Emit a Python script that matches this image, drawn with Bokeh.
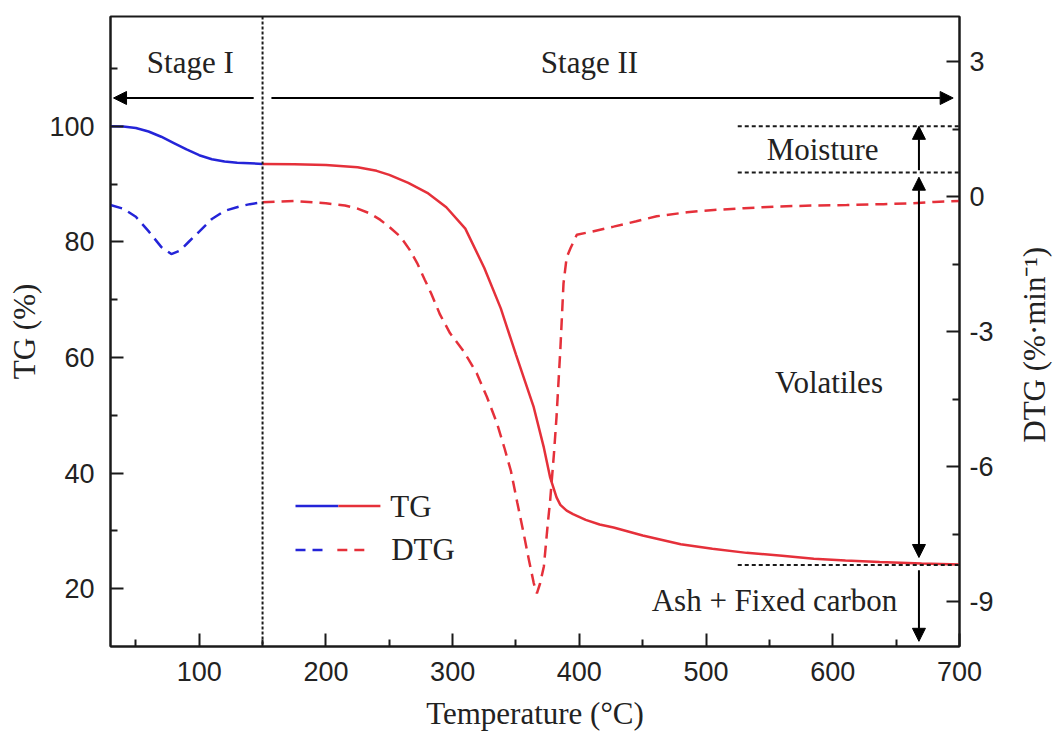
import math

from bokeh.core.properties import value
from bokeh.embed import file_html
from bokeh.layouts import row
from bokeh.models import Arrow, FixedTicker, Label, LinearAxis, NormalHead, Range1d, Span
from bokeh.plotting import figure
from bokeh.resources import INLINE

# ---- thermogravimetric data -------------------------------------------------
# Stage I (drying): TG in %, DTG in %/min
tg1_temp = [30, 40, 50, 60, 70, 80, 90, 100, 110, 120, 130, 140, 150]
tg1 = [100.0, 99.95, 99.7, 99.1, 98.2, 97.1, 96.0, 95.0, 94.3, 93.9, 93.7, 93.6, 93.5]

dtg1_temp = [30, 40, 50, 60, 70, 78, 85, 92, 100, 110, 120, 132, 140, 150]
dtg1 = [-0.19, -0.27, -0.45, -0.77, -1.12, -1.28, -1.2, -1.0, -0.78, -0.5, -0.32, -0.22, -0.17, -0.13]

# Stage II (devolatilisation)
tg2_temp = [150, 175, 200, 225, 240, 250, 265, 280, 295, 310, 325, 338, 350, 364, 372,
            377, 382, 385, 390, 395, 405, 416, 427, 450, 480, 505, 532, 560, 585, 610,
            637, 670, 700]
tg2 = [93.5, 93.45, 93.3, 92.9, 92.3, 91.6, 90.2, 88.5, 86.0, 82.3, 75.5, 68.5, 60.5, 51.4, 44.4,
       39.2, 35.8, 34.5, 33.5, 32.9, 31.9, 31.1, 30.6, 29.2, 27.7, 26.9, 26.2, 25.7, 25.2, 24.9,
       24.6, 24.35, 24.2]

dtg2_temp = [150, 175, 200, 215, 225, 235, 243, 251, 259, 266, 272, 278, 283, 290, 298, 309,
             319, 327, 335, 341, 346, 351, 356, 360, 364, 366.5, 369, 372, 375, 377, 380, 382,
             385, 387.5, 390, 393, 398, 410, 427, 445, 461, 485, 506, 530, 558, 585, 611, 640,
             663, 680, 700]
dtg2 = [-0.13, -0.1, -0.15, -0.2, -0.27, -0.38, -0.52, -0.7, -0.9, -1.18, -1.48, -1.85, -2.15,
        -2.62, -3.04, -3.45, -3.93, -4.45, -5.04, -5.6, -6.1, -6.8, -7.48, -8.05, -8.59, -8.82,
        -8.6, -8.22, -7.3, -6.74, -5.7, -4.89, -3.4, -1.93, -1.35, -1.15, -0.85, -0.78, -0.67,
        -0.55, -0.44, -0.35, -0.3, -0.26, -0.22, -0.2, -0.19, -0.17, -0.15, -0.12, -0.1]

# stage boundary and mass-loss levels (TG %)
stage_boundary = 150
moisture_top, moisture_bottom, residue_level = 100, 92, 24.1

# ticks
x_ticks = [100, 200, 300, 400, 500, 600, 700]
x_minor = [50, 150, 250, 350, 450, 550, 650]
tg_ticks = [20, 40, 60, 80, 100]
tg_minor = [30, 50, 70, 90, 110]
dtg_ticks = [3, 0, -3, -6, -9]
dtg_minor = [1.5, -1.5, -4.5, -7.5]
dtg_labels = {3: "3", 0: "0", -3: "-3", -6: "-6", -9: "-9"}

# ---- styling ---------------------------------------------------------------
SERIF = "Liberation Serif"
SANS = "Liberation Sans"
BLUE = "#2424d8"
RED = "#e5303a"
INK = "#1a1a1a"
TXT = "31px"

p = figure(width=996, height=733, output_backend="svg", toolbar_location=None,
           x_range=Range1d(30, 700), y_range=Range1d(10, 119),
           min_border_left=110, min_border_right=37, min_border_top=16, min_border_bottom=87)
p.extra_y_ranges = {"dtg": Range1d(-10, 4)}
p.grid.visible = False
p.outline_line_color = INK
p.outline_line_width = 2
p.background_fill_color = "white"
p.border_fill_color = "white"


def style_axis(ax, standoff):
    ax.axis_line_color = INK
    ax.axis_line_width = 2
    ax.major_tick_line_color = INK
    ax.major_tick_line_width = 2
    ax.minor_tick_line_color = INK
    ax.minor_tick_line_width = 2
    ax.major_tick_in = 13
    ax.major_tick_out = 0
    ax.minor_tick_in = 7
    ax.minor_tick_out = 0
    ax.major_label_text_font = SANS
    ax.major_label_text_font_size = "27px"
    ax.major_label_text_color = "#222222"
    ax.major_label_standoff = standoff
    ax.axis_label_text_font = SERIF
    ax.axis_label_text_font_size = TXT
    ax.axis_label_text_font_style = "normal"
    ax.axis_label_text_color = "#222222"


xax = p.xaxis[0]
xax.ticker = FixedTicker(ticks=x_ticks, minor_ticks=x_minor)
xax.axis_label = "Temperature (°C)"
style_axis(xax, 15)
xax.axis_label_standoff = 12

yax = p.yaxis[0]
yax.ticker = FixedTicker(ticks=tg_ticks, minor_ticks=tg_minor)
yax.axis_label = "TG (%)"
style_axis(yax, 16)
yax.axis_label_standoff = 4

rax = LinearAxis(y_range_name="dtg", ticker=FixedTicker(ticks=dtg_ticks, minor_ticks=dtg_minor))
rax.major_label_overrides = dtg_labels
style_axis(rax, 10)
p.add_layout(rax, "right")

# ---- curves ----------------------------------------------------------------
p.line(tg1_temp, tg1, line_color=BLUE, line_width=2.5)
p.line(tg2_temp, tg2, line_color=RED, line_width=2.5)
p.line(dtg1_temp, dtg1, y_range_name="dtg", line_color=BLUE, line_width=2.5, line_dash="12 7")
p.line(dtg2_temp, dtg2, y_range_name="dtg", line_color=RED, line_width=2.5, line_dash="12 7")

# ---- stage markers ---------------------------------------------------------
p.add_layout(Span(location=stage_boundary, dimension="height", line_color=INK,
                  line_width=2, line_dash="3 2"))


def head():
    return NormalHead(size=13, fill_color="black", line_color="black")


p.add_layout(Arrow(start=None, end=head(), x_start=143, y_start=104.9, x_end=32.4, y_end=104.9,
                   line_color="black", line_width=2))
p.add_layout(Arrow(start=None, end=head(), x_start=157, y_start=104.9, x_end=695, y_end=104.9,
                   line_color="black", line_width=2))

# mass-loss bands
p.segment(x0=[525, 525, 525], y0=[moisture_top, moisture_bottom, residue_level],
          x1=[700, 700, 700], y1=[moisture_top, moisture_bottom, residue_level],
          line_color=INK, line_width=2, line_dash="4 3")

p.add_layout(Arrow(start=None, end=head(), x_start=668, y_start=moisture_bottom + 0.4,
                   x_end=668, y_end=moisture_top, line_color="black", line_width=2))
p.add_layout(Arrow(start=head(), end=head(), x_start=668, y_start=moisture_bottom - 0.8,
                   x_end=668, y_end=residue_level + 1.3, line_color="black", line_width=2))
p.add_layout(Arrow(start=None, end=head(), x_start=668, y_start=residue_level - 0.9,
                   x_end=668, y_end=10.9, line_color="black", line_width=2))

p.text(x=[93, 408, 592, 597, 554],
       y=[111.1, 111.1, 96.0, 55.6, 17.9],
       text=["Stage I", "Stage II", "Moisture", "Volatiles", "Ash + Fixed carbon"],
       text_font=value(SERIF), text_font_size=TXT, text_color="#222222",
       text_align="center", text_baseline="middle")

# ---- legend (two-colour samples) -------------------------------------------
p.segment(x0=[176, 209.8], y0=[34.3, 34.3], x1=[209.8, 243], y1=[34.3, 34.3],
          line_color=[BLUE, RED], line_width=2.5)
p.segment(x0=[176, 209], y0=[26.7, 26.7], x1=[202, 235], y1=[26.7, 26.7],
          line_color=[BLUE, RED], line_width=2.5, line_dash="10 7")
p.text(x=[250.8, 251.5], y=[34.3, 26.7], text=["TG", "DTG"],
       text_font=value(SERIF), text_font_size=TXT, text_color="#222222",
       text_align="left", text_baseline="middle")

# ---- right-hand axis title, reading bottom-to-top --------------------------
side = figure(width=60, height=733, output_backend="svg", toolbar_location=None,
              x_range=Range1d(0, 60), y_range=Range1d(0, 733),
              x_axis_location=None, y_axis_location=None,
              min_border_left=0, min_border_right=0, min_border_top=0, min_border_bottom=0)
side.grid.visible = False
side.outline_line_color = None
side.background_fill_color = "white"
side.border_fill_color = "white"
side.add_layout(Label(x=38, y=351, text="DTG (%·min⁻¹)", angle=math.pi / 2,
                      text_align="center", text_baseline="middle",
                      text_font=SERIF, text_font_size=TXT, text_color="#222222"))

layout = row(p, side, spacing=0)
open("out.html", "w").write(file_html(layout, INLINE))
